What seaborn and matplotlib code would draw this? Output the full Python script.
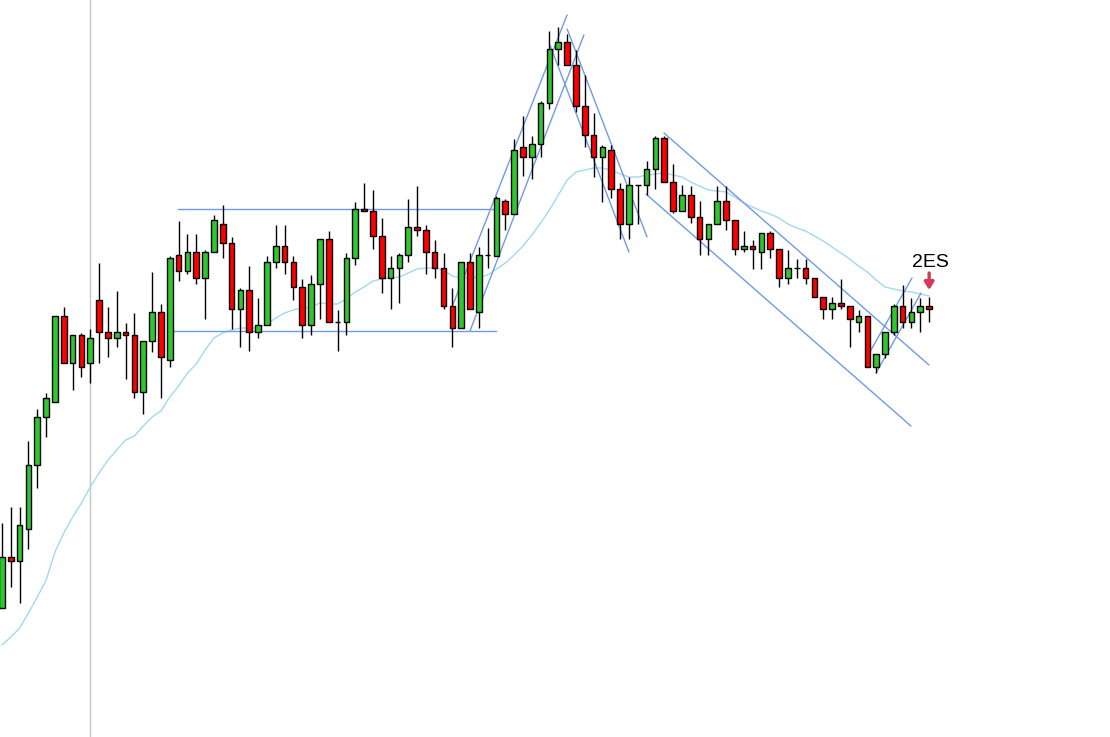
import numpy as np
import pandas as pd
import matplotlib
matplotlib.use("Agg")
import matplotlib.pyplot as plt
import seaborn as sns

# price levels (screen-down scale, converted below)
SCALE_TOP = 737

open_lvl = [608, 557, 561, 529, 465, 417, 402, 316, 363, 335, 363, 300, 332, 338, 332, 335, 392, 341, 312, 360,
            255, 271, 252, 278, 252, 224, 243, 309, 290, 332, 325, 262, 246, 262, 287, 325, 284, 239, 322, 322,
            258, 209, 211, 236, 278, 268, 255, 227, 230, 252, 268, 306, 328, 262, 312, 255, 256, 201, 214, 147,
            157, 144, 103, 49, 42, 65, 106, 135, 157, 150, 189, 224, 185, 185, 169, 138, 182, 211, 195, 217,
            239, 224, 201, 220, 249, 246, 252, 233, 249, 278, 268, 268, 278, 297, 309, 303, 306, 322, 316, 367,
            354, 332, 306, 322, 312, 306]
high_lvl = [523, 507, 507, 441, 409, 393, 316, 307, 335, 333, 329, 263, 307, 291, 323, 313, 341, 272, 304, 256,
            221, 234, 234, 250, 215, 205, 237, 288, 266, 298, 256, 225, 225, 256, 279, 275, 239, 231, 310, 253,
            202, 183, 190, 218, 256, 253, 199, 186, 225, 240, 253, 288, 262, 253, 247, 228, 196, 199, 139, 116,
            136, 101, 31, 27, 34, 50, 75, 113, 145, 145, 183, 177, 185, 161, 136, 136, 164, 185, 186, 201,
            224, 186, 186, 220, 231, 240, 233, 231, 249, 250, 259, 259, 278, 297, 297, 279, 306, 310, 316, 354,
            332, 304, 285, 298, 298, 297]
low_lvl = [608, 587, 603, 549, 488, 437, 402, 363, 390, 377, 383, 363, 357, 347, 379, 398, 414, 352, 398, 367,
           281, 274, 284, 319, 252, 258, 329, 347, 351, 338, 325, 268, 274, 300, 338, 335, 319, 322, 351, 335,
           265, 211, 249, 293, 309, 303, 262, 236, 274, 278, 309, 347, 328, 309, 328, 268, 256, 230, 214, 176,
           179, 157, 109, 65, 65, 112, 147, 177, 202, 198, 239, 239, 224, 195, 189, 182, 213, 211, 223, 255,
           255, 224, 230, 255, 252, 269, 269, 258, 287, 284, 278, 284, 297, 319, 319, 309, 347, 332, 367, 373,
           358, 335, 328, 328, 332, 322]
close_lvl = [557, 561, 525, 465, 417, 398, 316, 363, 335, 367, 338, 332, 338, 332, 335, 392, 341, 312, 357, 258,
             271, 252, 278, 252, 220, 243, 309, 290, 332, 325, 262, 246, 262, 287, 325, 284, 239, 322, 322, 258,
             209, 211, 236, 278, 268, 255, 227, 230, 252, 268, 306, 328, 262, 309, 255, 255, 198, 214, 150, 157,
             144, 103, 49, 42, 65, 106, 135, 157, 147, 189, 224, 185, 185, 169, 138, 182, 211, 195, 217, 239,
             224, 201, 220, 249, 246, 249, 233, 249, 278, 268, 268, 278, 297, 309, 303, 306, 319, 316, 367, 354,
             332, 306, 322, 312, 306, 309]
ma_lvl = [645, 637, 628, 613, 597, 580, 552, 533, 517, 503, 487, 473, 460, 450, 440, 436, 426, 417, 411, 397,
          386, 373, 364, 350, 338, 333, 330, 328, 328, 328, 324, 318, 313, 310, 308, 307, 303, 304, 304, 299,
          292, 287, 281, 279, 278, 277, 273, 269, 268, 268, 270, 276, 278, 278, 277, 275, 269, 263, 255, 246,
          235, 223, 210, 195, 180, 172, 170, 168, 168, 170, 174, 177, 177, 175, 174, 173, 175, 177, 182, 186,
          190, 191, 192, 197, 203, 207, 211, 214, 218, 224, 228, 231, 236, 241, 247, 253, 259, 266, 272, 280,
          287, 289, 291, 292, 294, 296]

# drawn trendlines: (bar index, level) start and end
trend_lines = [
    ((19.9, 209), (56.0, 209)),
    ((19.25, 331), (55.9, 331)),
    ((50.96, 307), (63.99, 15)),
    ((53.0, 331), (65.9, 35)),
    ((64.0, 29), (73.05, 237)),
    ((62.06, 45), (71.0, 252)),
    ((74.97, 133), (104.98, 365)),
    ((72.93, 194), (102.94, 426)),
    ((97.96, 357), (103.06, 278)),
    ((98.98, 373), (104.08, 293)),
]
signal_bar = 105
signal_label = "2ES"
marker_bar = 10

def to_price(v):
    return SCALE_TOP - np.asarray(v, dtype=float)

df = pd.DataFrame({
    "bar": np.arange(len(open_lvl)),
    "open": to_price(open_lvl),
    "high": to_price(high_lvl),
    "low": to_price(low_lvl),
    "close": to_price(close_lvl),
    "ma": to_price(ma_lvl),
})

sns.set_style("white")
plt.rcParams["font.family"] = ["Liberation Sans", "DejaVu Sans"]

fig = plt.figure(figsize=(11.1, 7.37), dpi=100)
ax = fig.add_axes([0, 0, 1, 1])

# vertical session marker
ax.axvline(marker_bar, color="#c4c4c4", lw=1, zorder=0)

# moving average
sns.lineplot(data=df, x="bar", y="ma", ax=ax, color="#a3d8f0", lw=1, zorder=1, legend=False)

# trendlines
for (x0, y0), (x1, y1) in trend_lines:
    ax.plot([x0, x1], to_price([y0, y1]), color="#6f9ae8", lw=1, zorder=2)

# wicks
ax.vlines(df["bar"], df["low"], df["high"], color="black", lw=1, zorder=3)

# bodies
w = 0.64
for _, r in df.iterrows():
    lo = min(r["open"], r["close"])
    hi = max(r["open"], r["close"])
    if r["close"] > r["open"]:
        fc = "#2ec82e"
    elif r["close"] < r["open"]:
        fc = "#ff0000"
    else:
        fc = "black"
    ax.bar(r["bar"], hi - lo, bottom=lo, width=w, color=fc, edgecolor="black",
           linewidth=1, zorder=4)

# signal arrow and label
sig_high = df.loc[signal_bar, "high"]
ax.annotate("", xy=(signal_bar, sig_high + 7), xytext=(signal_bar, sig_high + 24),
            arrowprops=dict(arrowstyle="-|>,head_length=0.45,head_width=0.28", color="#d43a55",
                            lw=2.4, shrinkA=0, shrinkB=0))
ax.text(signal_bar + 0.2, sig_high + 35, signal_label, ha="center", va="center",
        fontsize=14, color="black")

ax.set_xlim(-2 / 8.83, 1108 / 8.83)
ax.set_ylim(0, SCALE_TOP)
ax.axis("off")

fig.savefig("out.png", dpi=100)
